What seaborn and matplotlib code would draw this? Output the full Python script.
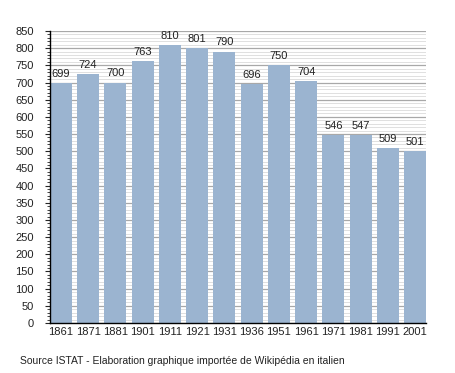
import matplotlib
matplotlib.use('Agg')
import matplotlib.pyplot as plt
from matplotlib.ticker import MultipleLocator
import seaborn as sns
import pandas as pd

# Population figures (census years)
years = ['1861', '1871', '1881', '1901', '1911', '1921', '1931',
         '1936', '1951', '1961', '1971', '1981', '1991', '2001']
population = [699, 724, 700, 763, 810, 801, 790,
              696, 750, 704, 546, 547, 509, 501]

df = pd.DataFrame({'year': years, 'pop': population})

sns.set_style('white')
plt.rcParams['font.family'] = ['Liberation Sans', 'DejaVu Sans']

fig = plt.figure(figsize=(4.55, 3.73), dpi=100)
ax = fig.add_axes([0.1099, 0.134, 0.8264, 0.7829])

sns.barplot(data=df, x='year', y='pop', order=years, color='#9bb4d0',
            saturation=1, width=0.8, linewidth=0, ax=ax)

ax.set_xlim(-0.4, 13.4)
ax.set_ylim(0, 850)
ax.yaxis.set_major_locator(MultipleLocator(50))
ax.yaxis.set_minor_locator(MultipleLocator(10))
ax.set_axisbelow(True)
ax.grid(which='major', axis='y', color='#a8a8a8', linewidth=0.9)
ax.grid(which='minor', axis='y', color='#e0e0e0', linewidth=0.7)

ax.bar_label(ax.containers[0], fontsize=8, padding=3, color='#222222')

for side in ['top', 'right']:
    ax.spines[side].set_visible(False)
ax.spines['left'].set_color('black')
ax.spines['bottom'].set_color('black')
ax.spines['left'].set_linewidth(1)
ax.spines['bottom'].set_linewidth(1)

ax.tick_params(axis='y', which='major', direction='out', length=3.5, width=0.8,
               labelsize=8, pad=8, left=True, labelcolor='#222222')
ax.tick_params(axis='y', which='minor', direction='out', length=2, width=0.6, left=True)
ax.tick_params(axis='x', length=0, labelsize=8, pad=3, labelcolor='#222222')
ax.set_xlabel('')
ax.set_ylabel('')

fig.text(0.044, 0.019, 'Source ISTAT - Elaboration graphique importée de Wikipédia en italien',
         fontsize=7.5, ha='left', va='bottom', color='#222222')

fig.savefig('out.png', dpi=100)
